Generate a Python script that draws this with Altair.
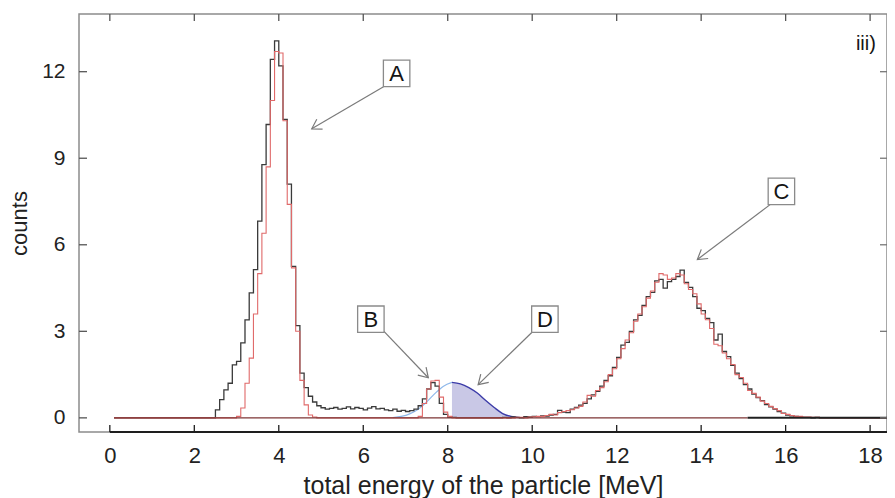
import math
import altair as alt
import pandas as pd

# ---------------- data ----------------
bin_width = 0.1
baseline_start = 0.1
baseline_end = 18.6
baseline_split = 15.1   # where the zero line turns from dark red to black

black_start = 2.5
black_counts = [
    0.28, 0.63, 0.97, 1.2, 1.84, 1.96, 2.6, 3.4, 4.33, 5.14,          # 2.5-3.4
    6.82, 8.78, 10.17, 12.43, 13.07, 12.2, 10.35, 8.1, 5.25, 3.2,     # 3.5-4.4
    1.55, 1.05, 0.75, 0.55, 0.42, 0.35, 0.3, 0.33, 0.36, 0.3,         # 4.5-5.4
    0.33, 0.38, 0.31, 0.36, 0.33, 0.28, 0.34, 0.39, 0.31, 0.33,       # 5.5-6.4
    0.28, 0.25, 0.3, 0.23, 0.26, 0.22, 0.25, 0.3, 0.42, 0.66,         # 6.5-7.4
    1.0, 1.22, 1.1, 0.5, 0.12, 0.03, 0.02, 0.0, 0.0, 0.0,             # 7.5-8.4
    0.0, 0.0, 0.0, 0.0, 0.0, 0.0, 0.0, 0.0, 0.02, 0.0,                # 8.5-9.4
    0.03, 0.02, 0.0, 0.04, 0.03, 0.05, 0.04, 0.07, 0.06, 0.1,         # 9.5-10.4
    0.12, 0.26, 0.2, 0.18, 0.3, 0.36, 0.44, 0.5, 0.66, 0.8,           # 10.5-11.4
    0.92, 1.1, 1.3, 1.46, 1.75, 2.1, 2.52, 2.62, 3.0, 3.4,            # 11.5-12.4
    3.55, 3.9, 4.2, 4.35, 4.75, 4.8, 4.5, 4.72, 4.8, 4.9,             # 12.5-13.4
    5.12, 4.7, 4.52, 4.2, 3.8, 3.72, 3.45, 3.3, 2.7, 2.9,             # 13.5-14.4
    2.3, 2.12, 1.82, 1.55, 1.36, 1.15, 1.0, 0.82, 0.7, 0.6,           # 14.5-15.4
    0.46, 0.38, 0.3, 0.22, 0.16, 0.1, 0.07, 0.05, 0.03, 0.02,         # 15.5-16.4
    0.02, 0.0, 0.02, 0.0, 0.0,                                        # 16.5-16.9
]

red_start = 3.0
red_counts = [
    0.05, 0.34, 1.2, 2.07, 3.6, 5.0, 6.4, 8.7, 11.0, 12.7,            # 3.0-3.9
    12.65, 10.3, 7.4, 5.2, 3.0, 1.3, 0.45, 0.1, 0.03, 0.0,            # 4.0-4.9
    0.0, 0.0, 0.0, 0.0, 0.0, 0.0, 0.0, 0.0, 0.0, 0.0,                 # 5.0-5.9
    0.0, 0.0, 0.0, 0.0, 0.0, 0.0, 0.0, 0.0, 0.0, 0.0,                 # 6.0-6.9
    0.0, 0.0, 0.0, 0.05, 0.5, 1.0, 1.28, 1.3, 0.72, 0.2,              # 7.0-7.9
    0.05, 0.0, 0.0, 0.0, 0.0, 0.0, 0.0, 0.0, 0.0, 0.0,                # 8.0-8.9
    0.0, 0.0, 0.0, 0.0, 0.0, 0.0, 0.02, 0.02, 0.0, 0.03,              # 9.0-9.9
    0.04, 0.05, 0.05, 0.08, 0.12, 0.1, 0.18, 0.22, 0.25, 0.28,        # 10.0-10.9
    0.34, 0.4, 0.55, 0.78, 0.75, 0.95, 1.05, 1.25, 1.5, 1.7,          # 11.0-11.9
    2.05, 2.4, 2.7, 2.95, 3.35, 3.6, 3.85, 4.15, 4.4, 4.7,            # 12.0-12.9
    5.0, 4.95, 4.8, 4.85, 5.0, 4.95, 4.65, 4.45, 4.3, 3.95,           # 13.0-13.9
    3.6, 3.4, 3.1, 2.55, 2.5, 2.25, 2.05, 1.85, 1.5, 1.4,             # 14.0-14.9
    1.2, 0.95, 0.85, 0.72, 0.58, 0.5, 0.4, 0.32, 0.25, 0.15,          # 15.0-15.9
    0.12, 0.08, 0.05, 0.05, 0.03, 0.03, 0.02, 0.02, 0.0, 0.0,         # 16.0-16.9
]

d_light_energy = [6.7, 6.9, 7.1, 7.3, 7.5, 7.7, 7.9, 8.1]
d_light_counts = [0.01, 0.05, 0.14, 0.3, 0.55, 0.85, 1.1, 1.23]
d_dark_energy = [8.1, 8.3, 8.5, 8.7, 8.9, 9.1, 9.3, 9.5, 9.7]
d_dark_counts = [1.23, 1.18, 1.05, 0.86, 0.6, 0.36, 0.15, 0.05, 0.01]

labels = ["A", "B", "C", "D"]
label_x = [6.79, 6.18, 15.9, 10.3]
label_y = [11.94, 3.42, 7.85, 3.42]
arrow_x = [6.48, 6.49, 15.64, 9.99]
arrow_y = [11.48, 3.0, 7.4, 2.96]
tip_x = [4.78, 7.54, 13.91, 8.72]
tip_y = [10.02, 1.39, 5.49, 1.15]

panel_label = "iii)"
panel_x = 17.9
panel_y = 12.95

x_ticks = [0, 2, 4, 6, 8, 10, 12, 14, 16, 18]
y_ticks = [0, 3, 6, 9, 12]
x_domain = [-0.73, 18.40]
y_domain = [-0.49, 14.0]

# ---------------- layout / style ----------------
W, H = 808, 418
FONT = "Liberation Sans"
xs = alt.Scale(domain=x_domain, nice=False, zero=False)
ys = alt.Scale(domain=y_domain, nice=False, zero=False)
x_axis = alt.Axis(values=x_ticks, title="total energy of the particle [MeV]",
                  labelPadding=13, titlePadding=7, labelFontSize=22, titleFontSize=25)
y_axis = alt.Axis(values=y_ticks, title="counts", labelPadding=14, titlePadding=10,
                  labelFontSize=21, titleFontSize=22)


def X(field):
    return alt.X(field, scale=xs, axis=x_axis)


def Y(field):
    return alt.Y(field, scale=ys, axis=y_axis)


def step_rows(start, counts, name):
    rows = [{"E": baseline_start, "c": 0.0, "s": name}]
    for i, c in enumerate(counts):
        rows.append({"E": round(start + i * bin_width, 3), "c": c, "s": name})
    end = round(start + len(counts) * bin_width, 3)
    rows.append({"E": end, "c": 0.0, "s": name})
    rows.append({"E": baseline_end, "c": 0.0, "s": name})
    return pd.DataFrame(rows)


black_df = step_rows(black_start, black_counts, "black")
red_df = step_rows(red_start, red_counts, "red")

black_line = alt.Chart(black_df).mark_line(
    interpolate="step-after", color="#3a3a3a", strokeWidth=1.3, clip=True
).encode(x=X("E:Q"), y=Y("c:Q"))

red_line = alt.Chart(red_df).mark_line(
    interpolate="step-after", color="#e06a6a", strokeWidth=1.1, clip=True
).encode(x=X("E:Q"), y=Y("c:Q"))

zero_df = pd.DataFrame({
    "a": [baseline_start, baseline_split], "b": [baseline_split, baseline_end],
    "z": [0.0, 0.0], "col": ["#7c3434", "#202020"], "w": [1.4, 2.0],
})
zero_line = alt.Chart(zero_df).mark_rule(clip=True).encode(
    x=X("a:Q"), x2="b:Q", y=Y("z:Q"),
    color=alt.Color("col:N", scale=None), strokeWidth=alt.StrokeWidth("w:Q", scale=None),
)

d_light_df = pd.DataFrame({"E": d_light_energy, "c": d_light_counts})
d_dark_df = pd.DataFrame({"E": d_dark_energy, "c": d_dark_counts})

d_area = alt.Chart(d_dark_df).mark_area(
    interpolate="monotone", color="#c9c8e6", opacity=1
).encode(x=X("E:Q"), y=Y("c:Q"), y2=alt.datum(0))
d_light = alt.Chart(d_light_df).mark_line(
    interpolate="monotone", color="#8fb8ea", strokeWidth=1.2
).encode(x=X("E:Q"), y=Y("c:Q"))
d_dark = alt.Chart(d_dark_df).mark_line(
    interpolate="monotone", color="#3c3ca8", strokeWidth=1.4
).encode(x=X("E:Q"), y=Y("c:Q"))

# annotations
px_x = W / (x_domain[1] - x_domain[0])
px_y = H / (y_domain[1] - y_domain[0])
angles = []
for sx, sy, tx, ty in zip(arrow_x, arrow_y, tip_x, tip_y):
    dx = (tx - sx) * px_x
    dy = -(ty - sy) * px_y
    angles.append(math.degrees(math.atan2(dx, -dy)) % 360)

ann_df = pd.DataFrame({
    "lab": labels, "lx": label_x, "ly": label_y,
    "ax": arrow_x, "ay": arrow_y, "tx": tip_x, "ty": tip_y, "ang": angles,
})

arrow_lines = alt.Chart(ann_df).mark_rule(color="#7a7a7a", strokeWidth=1.2).encode(
    x=X("ax:Q"), y=Y("ay:Q"), x2="tx:Q", y2="ty:Q",
)
arrow_heads = alt.Chart(ann_df).mark_point(
    shape="M -0.62 1 L 0 0 L 0.62 1", filled=False, size=340,
    color="#7a7a7a", strokeWidth=1.2, opacity=1
).encode(x=X("tx:Q"), y=Y("ty:Q"), angle=alt.Angle("ang:Q", scale=None))
boxes = alt.Chart(ann_df).mark_point(
    shape="square", filled=True, fill="white", stroke="#8a8a8a",
    strokeWidth=1.3, size=700, opacity=1
).encode(x=X("lx:Q"), y=Y("ly:Q"))
box_text = alt.Chart(ann_df).mark_text(
    font=FONT, fontSize=22, color="#151515", baseline="middle", align="center", dy=1
).encode(x=X("lx:Q"), y=Y("ly:Q"), text="lab:N")

panel_text = alt.Chart(pd.DataFrame({"x": [panel_x], "y": [panel_y], "t": [panel_label]})).mark_text(
    font=FONT, fontSize=20, color="#151515", align="center", baseline="middle"
).encode(x=X("x:Q"), y=Y("y:Q"), text="t:N")

# frame ticks (inside)
xt = pd.DataFrame({"t": x_ticks})
yt = pd.DataFrame({"t": y_ticks})
bottom_axis = alt.Chart(pd.DataFrame({"a": [0.0], "b": [x_domain[1]]})).mark_rule(
    color="#1e1e1e", strokeWidth=2
).encode(x=X("a:Q"), x2="b:Q", y=alt.value(H))
bottom_ticks = alt.Chart(xt).mark_rule(color="#1e1e1e", strokeWidth=1.3).encode(
    x=X("t:Q"), y=alt.value(H), y2=alt.value(H - 7))
top_ticks = alt.Chart(xt).mark_rule(color="#555555", strokeWidth=1.3).encode(
    x=X("t:Q"), y=alt.value(0), y2=alt.value(7))
left_ticks = alt.Chart(yt).mark_rule(color="#555555", strokeWidth=1.3).encode(
    y=Y("t:Q"), x=alt.value(0), x2=alt.value(8))
right_ticks = alt.Chart(yt).mark_rule(color="#777777", strokeWidth=1.3).encode(
    y=Y("t:Q"), x=alt.value(W), x2=alt.value(W - 7))

chart = alt.layer(
    d_area, d_light, d_dark, black_line, red_line, zero_line,
    arrow_lines, arrow_heads, boxes, box_text, panel_text,
    bottom_axis, bottom_ticks, top_ticks, left_ticks, right_ticks,
).properties(
    width=W, height=H,
    autosize=alt.AutoSizeParams(type="none"),
    padding={"left": 71, "top": 6, "right": 0, "bottom": 66},
    background="white",
).configure_view(
    stroke="#8c8c8c", strokeWidth=1.5
).configure_axis(
    grid=False, ticks=False, tickSize=0, domain=False,
    labelFont=FONT, labelColor="#222222",
    titleFont=FONT, titleColor="#222222", titleFontWeight="normal",
)

chart.save("out.html", embed_options={"renderer": "svg", "actions": False})
